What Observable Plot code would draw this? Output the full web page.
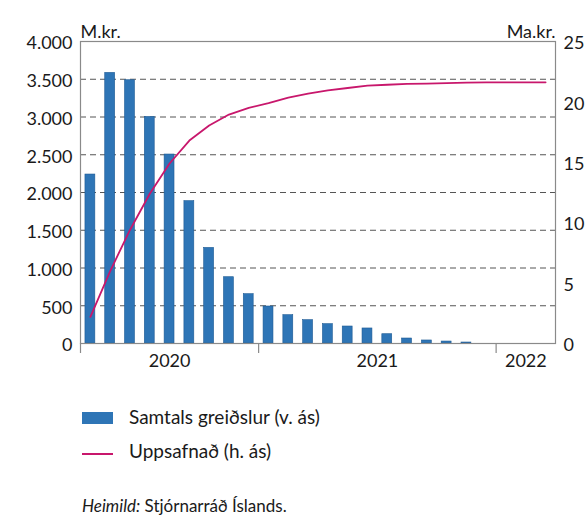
<!DOCTYPE html>
<html><head><meta charset="utf-8">
<script src="https://cdn.jsdelivr.net/npm/d3@7"></script>
<script src="https://cdn.jsdelivr.net/npm/@observablehq/plot@0.6"></script>
<style>
body{margin:0;background:#fff;font-family:Lato,sans-serif;color:#1a1a1a;}
#wrap{position:relative;width:586px;height:516px;overflow:hidden;}
#chart{position:absolute;left:0;top:0;}
.lg{position:absolute;line-height:1;white-space:nowrap;}
</style></head><body><div id="wrap"><div id="chart"></div>
<div class="lg" style="left:82px;top:412px;width:31px;height:12px;background:#2e75b6;"></div>
<div class="lg" style="left:129px;top:407px;font-size:19px;">Samtals greiðslur (v. ás)</div>
<div class="lg" style="left:82px;top:453px;width:31px;height:2px;background:#c8176c;"></div>
<div class="lg" style="left:129px;top:441px;font-size:19px;">Uppsafnað (h. ás)</div>
<div class="lg" style="left:82px;top:497px;font-size:17px;"><i>Heimild:</i> Stjórnarráð Íslands.</div>
</div>
<script>
const months = ["2020-04","2020-05","2020-06","2020-07","2020-08","2020-09","2020-10","2020-11","2020-12",
  "2021-01","2021-02","2021-03","2021-04","2021-05","2021-06","2021-07","2021-08","2021-09","2021-10","2021-11","2021-12",
  "2022-01","2022-02","2022-03"];
const payments = [2238,3584,3487,3001,2503,1885,1266,878,653,490,375,309,256,225,199,123,66,40,26,13,0,0,0,0];
const cumulative = [2.2,6.0,9.4,12.4,14.9,16.8,18.05,18.95,19.5,19.9,20.35,20.68,20.95,21.15,21.34,21.42,21.5,21.52,21.56,21.6,21.62,21.62,21.62,21.62];
const years = ["2020","2021","2022"];
const yearStart = [0,9,21];
const yearEnd = [9,21,24];
const leftTicks = [0,500,1000,1500,2000,2500,3000,3500,4000];
const rightTicks = [0,5,10,15,20,25];
const ratio = 4000/25;

const fmt = d => d >= 1000 ? Math.floor(d/1000) + "." + String(d % 1000).padStart(3,"0") : String(d);
const data = months.map((m,i) => ({i, pay: payments[i], cum: cumulative[i]}));
const yearMid = yearStart.map((s,k) => (s + yearEnd[k]) / 2);

const plot = Plot.plot({
  width: 586, height: 380,
  marginLeft: 80, marginRight: 31, marginTop: 41, marginBottom: 37,
  style: {fontFamily: "Lato, sans-serif", fontSize: "18px", color: "#1a1a1a", background: "transparent"},
  x: {domain: [0, 24], axis: null},
  y: {domain: [0, 4000], axis: null},
  marks: [
    Plot.ruleY(leftTicks.filter(d => d > 0 && d < 4000), {stroke: "#555", strokeDasharray: "6,4", strokeWidth: 1}),
    Plot.rectY(data, {x1: d => d.i + 0.25, x2: d => d.i + 0.75, y: "pay", fill: "#2e75b6", stroke: "#1d5a94", strokeWidth: 0.6}),
    Plot.line(data, {x: d => d.i + 0.5, y: d => d.cum * ratio, stroke: "#c8176c", strokeWidth: 1.8}),
    Plot.frame({stroke: "#8a8a8a", strokeWidth: 1.2}),
    Plot.axisY(leftTicks, {anchor: "left", tickSize: 0, tickPadding: 8, dy: 2, tickFormat: fmt, label: null}),
    Plot.axisY(rightTicks.map(d => d * ratio), {anchor: "right", tickSize: 0, tickPadding: 8, dy: 2, tickFormat: d => String(d / ratio), label: null}),
    Plot.axisX(yearStart, {anchor: "bottom", tickSize: 10, stroke: "#8a8a8a", strokeWidth: 1.2, tickFormat: () => "", label: null}),
    Plot.axisX(yearMid, {anchor: "bottom", tickSize: 0, tickPadding: 11, tickFormat: d => years[yearMid.indexOf(d)], label: null}),
    Plot.text(["M.kr."], {frameAnchor: "top-left", dy: -16, textAnchor: "start", fontSize: 18}),
    Plot.text(["Ma.kr."], {frameAnchor: "top-right", dy: -16, textAnchor: "end", fontSize: 18})
  ]
});
document.getElementById("chart").appendChild(plot);
</script>
</body></html>
